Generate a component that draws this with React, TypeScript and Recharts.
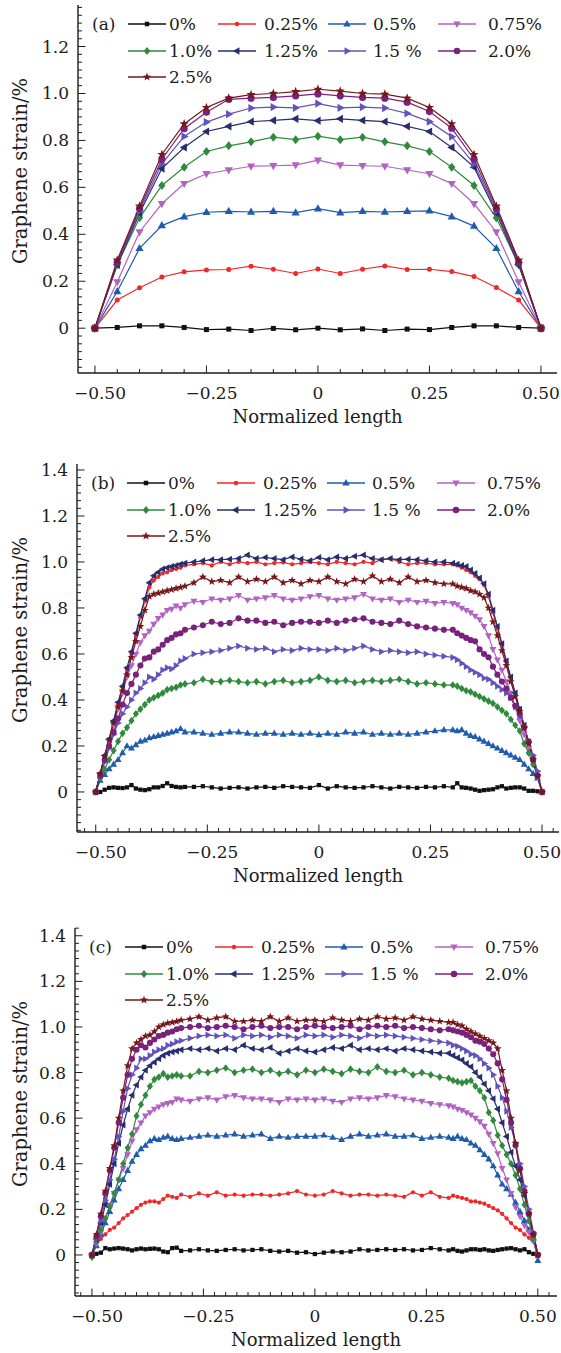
import React from 'react';
import { LineChart, Line, XAxis, YAxis } from 'recharts';

const FONT = '"DejaVu Serif", "Liberation Serif", serif';
const INK = '#1c1c1c';

const seriesLabels = ['0%', '0.25%', '0.5%', '0.75%', '1.0%', '1.25%', '1.5 %', '2.0%', '2.5%'];
const seriesColors = ['#111111', '#f0282a', '#1f5cad', '#b262c2', '#2f8a3d', '#262e6e', '#6252bc', '#7a217c', '#761719'];
const seriesShapes = ['square', 'dot', 'up', 'down', 'diamond', 'left', 'right', 'circle', 'star'];

const xMajor = [-0.5, -0.25, 0, 0.25, 0.5];
const xMajorLabels = ['\u22120.50', '\u22120.25', '0', '0.25', '0.50'];
const yMajor = [0, 0.2, 0.4, 0.6, 0.8, 1.0, 1.2, 1.4];
const yMajorLabels = ['0', '0.2', '0.4', '0.6', '0.8', '1.0', '1.2', '1.4'];

const xMinorA = [-0.5, -0.45, -0.4, -0.35, -0.3, -0.25, -0.2, -0.15, -0.1, -0.05, 0, 0.05, 0.1, 0.15, 0.2, 0.25, 0.3, 0.35, 0.4, 0.45, 0.5];
const xMinorBC = [-0.525, -0.5, -0.475, -0.45, -0.425, -0.4, -0.375, -0.35, -0.325, -0.3, -0.275, -0.25, -0.225, -0.2, -0.175, -0.15, -0.125, -0.1, -0.075, -0.05, -0.025, 0, 0.025, 0.05, 0.075, 0.1, 0.125, 0.15, 0.175, 0.2, 0.225, 0.25, 0.275, 0.3, 0.325, 0.35, 0.375, 0.4, 0.425, 0.45, 0.475, 0.5, 0.525];

// ---------- panel (a) ----------
const xA = [-0.5, -0.45, -0.4, -0.35, -0.3, -0.25, -0.2, -0.15, -0.1, -0.05, 0, 0.05, 0.1, 0.15, 0.2, 0.25, 0.3, 0.35, 0.4, 0.45, 0.5];
const a0 = [0, 0.003, 0.01, 0.01, 0.003, -0.006, -0.004, -0.01, -0.001, -0.007, 0, -0.007, -0.003, -0.01, -0.004, -0.006, 0.003, 0.01, 0.01, 0.003, 0];
const a025 = [0, 0.12, 0.172, 0.218, 0.24, 0.248, 0.25, 0.264, 0.251, 0.233, 0.252, 0.233, 0.251, 0.265, 0.25, 0.251, 0.241, 0.22, 0.173, 0.12, 0];
const a05 = [0, 0.156, 0.34, 0.437, 0.475, 0.494, 0.498, 0.495, 0.498, 0.492, 0.509, 0.492, 0.498, 0.495, 0.498, 0.5, 0.475, 0.435, 0.34, 0.156, 0];
const a075 = [0, 0.197, 0.41, 0.53, 0.616, 0.658, 0.674, 0.69, 0.692, 0.695, 0.716, 0.695, 0.692, 0.69, 0.674, 0.658, 0.616, 0.53, 0.41, 0.197, 0];
const a10 = [0, 0.27, 0.47, 0.608, 0.686, 0.753, 0.777, 0.794, 0.814, 0.803, 0.818, 0.803, 0.814, 0.794, 0.777, 0.753, 0.686, 0.608, 0.47, 0.27, 0];
const a125 = [0, 0.27, 0.49, 0.68, 0.77, 0.838, 0.86, 0.88, 0.885, 0.892, 0.884, 0.892, 0.885, 0.88, 0.86, 0.838, 0.77, 0.686, 0.49, 0.27, 0];
const a15 = [0, 0.28, 0.5, 0.7, 0.817, 0.878, 0.912, 0.938, 0.942, 0.939, 0.957, 0.939, 0.942, 0.938, 0.915, 0.88, 0.816, 0.7, 0.5, 0.28, 0];
const a20 = [0, 0.28, 0.51, 0.72, 0.85, 0.92, 0.975, 0.98, 0.983, 0.99, 0.998, 0.99, 0.983, 0.98, 0.963, 0.923, 0.852, 0.72, 0.51, 0.28, 0];
const a25 = [0, 0.29, 0.52, 0.74, 0.87, 0.94, 0.98, 0.995, 1.0, 1.008, 1.018, 1.01, 1.0, 0.997, 0.98, 0.94, 0.87, 0.74, 0.52, 0.29, 0];

// ---------- panels (b) and (c): shared x positions ----------
const xBC = [
  -0.5, -0.49, -0.48, -0.47, -0.46, -0.45, -0.44, -0.43, -0.42, -0.41, -0.4, -0.39, -0.38, -0.37, -0.36, -0.35, -0.34, -0.33, -0.32, -0.31, -0.3,
  -0.28, -0.26, -0.24, -0.22, -0.2, -0.18, -0.16, -0.14, -0.12, -0.1, -0.08, -0.06, -0.04, -0.02, 0, 0.02, 0.04, 0.06, 0.08, 0.1, 0.12, 0.14, 0.16, 0.18, 0.2, 0.22, 0.24, 0.26, 0.28,
  0.3, 0.31, 0.32, 0.33, 0.34, 0.35, 0.36, 0.37, 0.38, 0.39, 0.4, 0.41, 0.42, 0.43, 0.44, 0.45, 0.46, 0.47, 0.48, 0.49, 0.5,
];

const b0 = [
  0, 0.0, 0.01, 0.018, 0.02, 0.018, 0.017, 0.02, 0.03, 0.015, 0.01, 0.008, 0.012, 0.02, 0.02, 0.026, 0.038, 0.026, 0.022, 0.02, 0.022,
  0.022, 0.025, 0.02, 0.015, 0.018, 0.02, 0.015, 0.02, 0.022, 0.018, 0.025, 0.022, 0.02, 0.018, 0.03, 0.015, 0.025, 0.02, 0.018, 0.02, 0.025, 0.02, 0.015, 0.022, 0.02, 0.018, 0.022, 0.02, 0.025,
  0.02, 0.038, 0.02, 0.018, 0.015, 0.01, 0.005, 0.008, 0.01, 0.012, 0.02, 0.025, 0.015, 0.018, 0.02, 0.02, 0.015, 0.005, 0.005, 0.003, 0,
];
const b025 = [
  0, 0.08, 0.155, 0.23, 0.305, 0.38, 0.455, 0.53, 0.6, 0.68, 0.76, 0.83, 0.89, 0.92, 0.935, 0.95, 0.955, 0.965, 0.97, 0.975, 0.985,
  0.99, 0.995, 0.985, 1.0, 0.99, 1.0, 0.995, 1.0, 0.99, 0.995, 0.998, 0.99, 0.995, 1.0, 0.995, 0.99, 1.0, 0.995, 0.99, 1.0, 0.995, 1.01, 1.015, 1.0, 0.99, 0.995, 0.995, 0.99, 0.99,
  0.99, 0.985, 0.975, 0.965, 0.955, 0.94, 0.925, 0.9, 0.85, 0.78, 0.71, 0.64, 0.565, 0.495, 0.425, 0.355, 0.285, 0.21, 0.14, 0.07, 0,
];
const b05 = [
  0, 0.05, 0.075, 0.1, 0.12, 0.14, 0.17, 0.2, 0.19, 0.205, 0.22, 0.225, 0.235, 0.24, 0.245, 0.25, 0.255, 0.26, 0.265, 0.275, 0.26,
  0.26, 0.255, 0.25, 0.255, 0.26, 0.26, 0.255, 0.25, 0.255, 0.255, 0.25, 0.255, 0.25, 0.255, 0.248, 0.255, 0.25, 0.26, 0.255, 0.26, 0.25, 0.255, 0.25, 0.255, 0.25, 0.255, 0.26, 0.265, 0.27,
  0.27, 0.265, 0.27, 0.255, 0.245, 0.24, 0.23, 0.22, 0.21, 0.2, 0.19, 0.18, 0.17, 0.16, 0.15, 0.14, 0.12, 0.1, 0.08, 0.06, 0,
];
const b075 = [
  0, 0.075, 0.15, 0.22, 0.29, 0.36, 0.43, 0.5, 0.55, 0.6, 0.65, 0.68, 0.7, 0.73, 0.755, 0.77, 0.79, 0.795, 0.81, 0.8, 0.815,
  0.83, 0.825, 0.84, 0.835, 0.84, 0.855, 0.835, 0.84, 0.845, 0.855, 0.84, 0.835, 0.84, 0.85, 0.855, 0.84, 0.835, 0.84, 0.845, 0.86, 0.84, 0.835, 0.84, 0.825, 0.835, 0.825, 0.83, 0.82, 0.825,
  0.82, 0.815, 0.8, 0.79, 0.78, 0.765, 0.75, 0.72, 0.68, 0.62, 0.575, 0.53, 0.48, 0.43, 0.37, 0.31, 0.25, 0.19, 0.13, 0.065, 0,
];
const b10 = [
  0, 0.06, 0.1, 0.14, 0.18, 0.22, 0.255, 0.28, 0.31, 0.34, 0.36, 0.38, 0.4, 0.41, 0.42, 0.43, 0.445, 0.45, 0.455, 0.465, 0.47,
  0.475, 0.49, 0.48, 0.48, 0.485, 0.48, 0.475, 0.48, 0.47, 0.48, 0.485, 0.475, 0.48, 0.485, 0.5, 0.485, 0.48, 0.485, 0.475, 0.48, 0.485, 0.48, 0.485, 0.49, 0.48, 0.47, 0.475, 0.47, 0.465,
  0.465, 0.46, 0.45, 0.44, 0.435, 0.425, 0.415, 0.405, 0.395, 0.385, 0.37, 0.355, 0.34, 0.315, 0.29, 0.265, 0.21, 0.17, 0.12, 0.07, 0,
];
const b125 = [
  0, 0.08, 0.16, 0.23, 0.31, 0.39, 0.46, 0.54, 0.61, 0.69, 0.77, 0.84, 0.91, 0.94, 0.955, 0.97, 0.975, 0.98, 0.985, 0.99, 0.995,
  1.0, 1.005, 1.01, 1.01, 1.012, 1.015, 1.03, 1.015, 1.02, 1.015, 1.01, 1.022, 1.012, 1.005, 1.02, 1.01, 1.022, 1.015, 1.025, 1.03, 1.015, 1.01, 1.015, 1.01, 1.012, 1.01, 1.005, 1.0, 1.0,
  0.995, 0.99, 0.985, 0.98, 0.965, 0.95, 0.93, 0.905, 0.86, 0.79, 0.72, 0.645, 0.57, 0.5, 0.43, 0.36, 0.29, 0.215, 0.145, 0.07, 0,
];
const b15 = [
  0, 0.07, 0.13, 0.19, 0.25, 0.3, 0.34, 0.37, 0.4, 0.43, 0.45, 0.475, 0.5, 0.49, 0.51, 0.53, 0.54, 0.535, 0.55, 0.57, 0.58,
  0.6, 0.605, 0.61, 0.615, 0.625, 0.635, 0.625, 0.62, 0.625, 0.61, 0.62, 0.615, 0.625, 0.62, 0.62, 0.615, 0.625, 0.615, 0.625, 0.635, 0.62, 0.61, 0.615, 0.61, 0.605, 0.61, 0.6, 0.595, 0.59,
  0.585, 0.575, 0.56, 0.545, 0.53, 0.52, 0.51, 0.495, 0.49, 0.475, 0.46, 0.445, 0.43, 0.41, 0.37, 0.33, 0.28, 0.22, 0.16, 0.09, 0,
];
const b20 = [
  0, 0.07, 0.14, 0.2, 0.26, 0.32, 0.38, 0.43, 0.47, 0.51, 0.55, 0.58, 0.585, 0.61, 0.62, 0.64, 0.66, 0.67, 0.685, 0.69, 0.705,
  0.715, 0.725, 0.74, 0.73, 0.735, 0.755, 0.745, 0.745, 0.735, 0.74, 0.725, 0.735, 0.74, 0.74, 0.735, 0.745, 0.735, 0.745, 0.75, 0.755, 0.74, 0.735, 0.73, 0.745, 0.73, 0.72, 0.715, 0.71, 0.705,
  0.705, 0.69, 0.68, 0.67, 0.66, 0.655, 0.62, 0.6, 0.586, 0.545, 0.51, 0.48, 0.45, 0.41, 0.375, 0.34, 0.28, 0.22, 0.14, 0.07, 0,
];
const b25 = [
  0, 0.08, 0.155, 0.225, 0.3, 0.37, 0.44, 0.51, 0.585, 0.655, 0.72, 0.79, 0.85, 0.86, 0.865, 0.87, 0.875, 0.88, 0.885, 0.89, 0.895,
  0.91, 0.935, 0.915, 0.92, 0.91, 0.935, 0.915, 0.925, 0.915, 0.935, 0.91, 0.92, 0.905, 0.92, 0.915, 0.935, 0.915, 0.905, 0.925, 0.915, 0.94, 0.915, 0.925, 0.91, 0.935, 0.915, 0.92, 0.91, 0.905,
  0.905, 0.895, 0.89, 0.885, 0.875, 0.87, 0.86, 0.845, 0.8, 0.74, 0.68, 0.615, 0.55, 0.48, 0.415, 0.35, 0.28, 0.21, 0.14, 0.07, 0,
];

const c0 = [
  0, 0.005, 0.01, 0.03, 0.025, 0.028, 0.03, 0.028, 0.025, 0.02, 0.025, 0.028, 0.025, 0.027, 0.028, 0.025, 0.015, 0.012, 0.03, 0.032, 0.018,
  0.02, 0.025, 0.02, 0.018, 0.022, 0.025, 0.02, 0.022, 0.025, 0.018, 0.015, 0.018, 0.01, 0.012, 0.004, 0.01, 0.015, 0.012, 0.015, 0.025, 0.02, 0.022, 0.025, 0.022, 0.025, 0.02, 0.022, 0.03, 0.025,
  0.02, 0.025, 0.018, 0.015, 0.02, 0.025, 0.025, 0.022, 0.025, 0.02, 0.018, 0.022, 0.025, 0.028, 0.03, 0.025, 0.02, 0.025, 0.012, 0.005, 0,
];
const c025 = [
  0, 0.04, 0.07, 0.09, 0.11, 0.12, 0.14, 0.16, 0.175, 0.19, 0.205, 0.22, 0.23, 0.235, 0.235, 0.23, 0.245, 0.26, 0.255, 0.25, 0.265,
  0.255, 0.27, 0.26, 0.275, 0.26, 0.265, 0.26, 0.265, 0.265, 0.26, 0.265, 0.27, 0.28, 0.265, 0.26, 0.265, 0.28, 0.27, 0.26, 0.265, 0.265, 0.26, 0.265, 0.26, 0.255, 0.275, 0.26, 0.275, 0.255,
  0.25, 0.26, 0.255, 0.25, 0.245, 0.235, 0.235, 0.23, 0.225, 0.215, 0.205, 0.195, 0.18, 0.16, 0.14, 0.12, 0.11, 0.09, 0.075, 0.06, 0,
];
const c05 = [
  0, 0.04, 0.09, 0.14, 0.19, 0.24, 0.29, 0.33, 0.37, 0.41, 0.44, 0.465, 0.48, 0.5, 0.51, 0.505, 0.515, 0.52, 0.51, 0.505, 0.51,
  0.515, 0.52, 0.525, 0.52, 0.525, 0.53, 0.52, 0.525, 0.53, 0.51, 0.52, 0.515, 0.52, 0.52, 0.52, 0.525, 0.515, 0.505, 0.52, 0.53, 0.52, 0.525, 0.53, 0.52, 0.52, 0.525, 0.51, 0.515, 0.52,
  0.515, 0.51, 0.52, 0.51, 0.505, 0.49, 0.48, 0.46, 0.44, 0.42, 0.39, 0.35, 0.31, 0.29, 0.265, 0.23, 0.19, 0.15, 0.11, 0.07, -0.025,
];
const c075 = [
  0, 0.05, 0.1, 0.16, 0.22, 0.27, 0.33, 0.38, 0.44, 0.5, 0.55, 0.58, 0.61, 0.625, 0.64, 0.65, 0.66, 0.665, 0.67, 0.685, 0.68,
  0.675, 0.685, 0.69, 0.68, 0.695, 0.7, 0.69, 0.685, 0.685, 0.68, 0.67, 0.685, 0.68, 0.685, 0.68, 0.685, 0.675, 0.67, 0.685, 0.69, 0.685, 0.69, 0.7, 0.695, 0.685, 0.68, 0.675, 0.665, 0.66,
  0.655, 0.65, 0.64, 0.635, 0.625, 0.615, 0.6, 0.585, 0.565, 0.53, 0.49, 0.445, 0.38, 0.33, 0.27, 0.21, 0.17, 0.13, 0.1, 0.06, 0,
];
const c10 = [
  -0.01, 0.06, 0.11, 0.16, 0.21, 0.27, 0.33, 0.4, 0.47, 0.53, 0.61, 0.66, 0.7, 0.74, 0.77, 0.78, 0.795, 0.78, 0.785, 0.79, 0.785,
  0.785, 0.805, 0.8, 0.81, 0.82, 0.8, 0.81, 0.815, 0.8, 0.81, 0.795, 0.805, 0.79, 0.81, 0.8, 0.815, 0.805, 0.795, 0.815, 0.805, 0.8, 0.825, 0.805, 0.8, 0.81, 0.79, 0.8, 0.79, 0.78,
  0.775, 0.765, 0.76, 0.755, 0.76, 0.765, 0.74, 0.72, 0.69, 0.625, 0.59, 0.525, 0.48, 0.44, 0.4, 0.35, 0.29, 0.22, 0.15, 0.07, 0,
];
const c125 = [
  0, 0.07, 0.14, 0.22, 0.31, 0.4, 0.49, 0.57, 0.64, 0.7, 0.745, 0.78, 0.81, 0.83, 0.845, 0.86, 0.875, 0.885, 0.89, 0.895, 0.9,
  0.905, 0.9, 0.905, 0.895, 0.905, 0.9, 0.92, 0.905, 0.9, 0.91, 0.885, 0.895, 0.905, 0.895, 0.89, 0.9, 0.91, 0.905, 0.92, 0.9, 0.905, 0.9, 0.905, 0.895, 0.905, 0.9, 0.895, 0.89, 0.885,
  0.885, 0.875, 0.865, 0.855, 0.84, 0.825, 0.8, 0.78, 0.75, 0.72, 0.685, 0.64, 0.58, 0.52, 0.45, 0.39, 0.33, 0.26, 0.18, 0.09, 0,
];
const c15 = [
  0, 0.07, 0.15, 0.24, 0.33, 0.42, 0.52, 0.63, 0.73, 0.79, 0.82, 0.86, 0.86, 0.875, 0.89, 0.9, 0.905, 0.92, 0.925, 0.935, 0.94,
  0.95, 0.96, 0.965, 0.96, 0.965, 0.95, 0.965, 0.96, 0.965, 0.955, 0.965, 0.96, 0.95, 0.965, 0.96, 0.965, 0.955, 0.965, 0.96, 0.95, 0.965, 0.96, 0.965, 0.96, 0.955, 0.95, 0.945, 0.94, 0.935,
  0.93, 0.92, 0.915, 0.905, 0.895, 0.88, 0.875, 0.86, 0.84, 0.82, 0.79, 0.74, 0.69, 0.63, 0.56, 0.49, 0.4, 0.3, 0.2, 0.1, 0,
];
const c20 = [
  0, 0.08, 0.17, 0.27, 0.37, 0.47, 0.58, 0.69, 0.79, 0.86, 0.9, 0.92, 0.91, 0.93, 0.945, 0.96, 0.965, 0.975, 0.98, 0.99, 0.995,
  1.0, 1.005, 0.995, 1.0, 1.005, 1.0, 0.99, 1.0, 1.005, 0.995, 1.0, 1.0, 0.99, 1.0, 1.005, 1.0, 0.995, 1.0, 1.005, 0.99, 1.0, 1.005, 1.0, 1.005, 0.995, 1.0, 0.995, 0.99, 0.985,
  0.99, 0.985, 0.98, 0.975, 0.965, 0.955, 0.94, 0.935, 0.925, 0.905, 0.88, 0.84, 0.77, 0.68, 0.58, 0.48, 0.38, 0.28, 0.18, 0.09, 0,
];
const c25 = [
  0, 0.09, 0.18, 0.28, 0.38, 0.48, 0.6, 0.72, 0.83, 0.905, 0.93, 0.945, 0.96, 0.965, 0.98, 1.0, 1.01, 1.017, 1.02, 1.024, 1.03,
  1.035, 1.045, 1.03, 1.04, 1.045, 1.025, 1.025, 1.03, 1.025, 1.045, 1.025, 1.04, 1.025, 1.03, 1.03, 1.025, 1.04, 1.03, 1.025, 1.035, 1.03, 1.045, 1.035, 1.04, 1.03, 1.045, 1.035, 1.03, 1.025,
  1.02, 1.02, 1.01, 1.005, 0.99, 0.98, 0.97, 0.96, 0.95, 0.94, 0.93, 0.905, 0.81, 0.72, 0.6, 0.49, 0.37, 0.27, 0.18, 0.09, 0,
];

const seriesA = [a0, a025, a05, a075, a10, a125, a15, a20, a25];
const seriesB = [b0, b025, b05, b075, b10, b125, b15, b20, b25];
const seriesC = [c0, c025, c05, c075, c10, c125, c15, c20, c25];

// minor y ticks every 0.2/6
const yMinorAll = Array.from({ length: 50 }, (_, i) => Math.round(((i - 6) * 0.2 / 6) * 10000) / 10000);

function Marker({ shape, cx, cy, color, k }: any) {
  if (cx == null || cy == null || isNaN(cx) || isNaN(cy)) return null;
  const p = (pts: number[][]) => pts.map(([a, b]) => `${(cx + a * k).toFixed(2)},${(cy + b * k).toFixed(2)}`).join(' ');
  switch (shape) {
    case 'square':
      return <rect x={cx - 2.5 * k} y={cy - 2.5 * k} width={5 * k} height={5 * k} fill={color} />;
    case 'dot':
      return <circle cx={cx} cy={cy} r={2.5 * k} fill={color} />;
    case 'circle':
      return <circle cx={cx} cy={cy} r={3.6 * k} fill={color} />;
    case 'up':
      return <polygon points={p([[0, -4.5], [4.1, 2.7], [-4.1, 2.7]])} fill={color} />;
    case 'down':
      return <polygon points={p([[0, 4.5], [4.1, -2.7], [-4.1, -2.7]])} fill={color} />;
    case 'left':
      return <polygon points={p([[-4.5, 0], [2.7, -4.1], [2.7, 4.1]])} fill={color} />;
    case 'right':
      return <polygon points={p([[4.5, 0], [-2.7, -4.1], [-2.7, 4.1]])} fill={color} />;
    case 'diamond':
      return <polygon points={p([[0, -4.5], [3.6, 0], [0, 4.5], [-3.6, 0]])} fill={color} />;
    case 'star': {
      const pts: number[][] = [];
      for (let i = 0; i < 10; i++) {
        const r = i % 2 === 0 ? 4.9 : 2.0;
        const a = -Math.PI / 2 + (i * Math.PI) / 5;
        pts.push([r * Math.cos(a), r * Math.sin(a)]);
      }
      return <polygon points={p(pts)} fill={color} />;
    }
    default:
      return null;
  }
}

const majorIndex = (arr: number[], v: number) => arr.findIndex((m) => Math.abs(m - v) < 1e-6);

const textStyle = { fontFamily: FONT, fontSize: 17, fill: INK };
const titleStyle = { fontFamily: FONT, fontSize: 18, fill: INK };
const yTitleStyle = { fontFamily: FONT, fontSize: 19.5, fill: INK };

function makeTick(side: string) {
  return (props: any) => {
    const { x, y, payload, index } = props;
    const v = payload.value;
    if (side === 'bottom' || side === 'top') {
      const mi = majorIndex(xMajor, v);
      const len = mi >= 0 ? 7.5 : 4;
      const dir = side === 'bottom' ? -1 : 1;
      return (
        <g key={`${side}${index}`}>
          <line x1={x} y1={y} x2={x} y2={y + dir * len} stroke={INK} strokeWidth={1} />
          {side === 'bottom' && mi >= 0 && (
            <text x={x + (v < 0 ? 5 : 0)} y={y + 26} textAnchor="middle" style={textStyle}>
              {xMajorLabels[mi]}
            </text>
          )}
        </g>
      );
    }
    const mi = majorIndex(yMajor, v);
    const len = mi >= 0 ? 7.5 : 4;
    const dir = side === 'left' ? 1 : -1;
    return (
      <g key={`${side}${index}`}>
        <line x1={x} y1={y} x2={x + dir * len} y2={y} stroke={INK} strokeWidth={1} />
        {side === 'left' && mi >= 0 && (
          <text x={x - 9} y={y + 6} textAnchor="end" style={textStyle}>
            {yMajorLabels[mi]}
          </text>
        )}
      </g>
    );
  };
}

const legendCols = [50, 140, 250, 360];
const legendTextOff = [41, 46, 45, 50];
const legendRows = [19, 46, 72];

function Panel({ top, height, plot, xDomain, yDomain, xs, series, xMinor, tag, k }: any) {
  const W = 561;
  const data = xs.map((x: number, i: number) => {
    const row: any = { x };
    series.forEach((s: number[], j: number) => {
      row['s' + j] = s[i];
    });
    return row;
  });
  const yAxisW = 40;
  const xAxisH = 30;
  const margin = {
    top: plot.top,
    left: plot.left - yAxisW,
    right: W - plot.right,
    bottom: height - plot.bottom - xAxisH,
  };
  const yTicks = yMinorAll.filter((v) => v >= yDomain[0] && v <= yDomain[1]);
  const xTicks = xMinor.filter((v: number) => v >= xDomain[0] && v <= xDomain[1]);
  const axisLine = { stroke: INK, strokeWidth: 1.4 };
  const midX = (plot.left + plot.right) / 2;
  const midY = (plot.top + plot.bottom) / 2;
  return (
    <div style={{ position: 'absolute', left: 0, top, width: W, height }}>
      <LineChart width={W} height={height} data={data} margin={margin}>
        <XAxis
          dataKey="x"
          type="number"
          domain={xDomain}
          allowDataOverflow
          ticks={xTicks}
          interval={0}
          height={xAxisH}
          tickSize={0}
          tickMargin={0}
          tickLine={false}
          axisLine={axisLine}
          tick={makeTick('bottom')}
        />
        <XAxis
          xAxisId="top"
          orientation="top"
          dataKey="x"
          type="number"
          domain={xDomain}
          allowDataOverflow
          ticks={xTicks}
          interval={0}
          height={0}
          tickSize={0}
          tickMargin={0}
          tickLine={false}
          axisLine={axisLine}
          tick={makeTick('top')}
        />
        <YAxis
          type="number"
          domain={yDomain}
          allowDataOverflow
          ticks={yTicks}
          interval={0}
          width={yAxisW}
          tickSize={0}
          tickMargin={0}
          tickLine={false}
          axisLine={axisLine}
          tick={makeTick('left')}
        />
        <YAxis
          yAxisId="right"
          orientation="right"
          type="number"
          domain={yDomain}
          allowDataOverflow
          ticks={yTicks}
          interval={0}
          width={0}
          tickSize={0}
          tickMargin={0}
          tickLine={false}
          axisLine={axisLine}
          tick={makeTick('right')}
        />
        {series.map((_: number[], j: number) => (
          <Line
            key={j}
            dataKey={'s' + j}
            stroke={seriesColors[j]}
            strokeWidth={1.2}
            isAnimationActive={false}
            activeDot={false}
            dot={(p: any) => (
              <g key={`d${j}-${p.index}`}>
                <Marker shape={seriesShapes[j]} cx={p.cx} cy={p.cy} color={seriesColors[j]} k={k} />
              </g>
            )}
          />
        ))}
      </LineChart>
      <svg
        width={W}
        height={height}
        style={{ position: 'absolute', left: 0, top: 0, pointerEvents: 'none' }}
      >
        <text x={plot.left + 14} y={plot.top + legendRows[0] + 6} style={textStyle}>
          {tag}
        </text>
        {seriesLabels.map((lab, j) => {
          const col = j % 4;
          const row = Math.floor(j / 4);
          const x0 = plot.left + legendCols[col];
          const yy = plot.top + legendRows[row];
          return (
            <g key={lab}>
              <line x1={x0} y1={yy} x2={x0 + 38} y2={yy} stroke={seriesColors[j]} strokeWidth={1.4} />
              <Marker shape={seriesShapes[j]} cx={x0 + 19} cy={yy} color={seriesColors[j]} k={0.9} />
              <text x={x0 + legendTextOff[col]} y={yy + 6} style={textStyle}>
                {lab}
              </text>
            </g>
          );
        })}
        <text x={midX} y={plot.bottom + 50} textAnchor="middle" style={titleStyle}>
          Normalized length
        </text>
        <text
          x={0}
          y={0}
          textAnchor="middle"
          transform={`translate(${27},${midY - 18}) rotate(-90)`}
          style={yTitleStyle}
        >
          Graphene strain/%
        </text>
      </svg>
    </div>
  );
}

export default function App() {
  return (
    <div style={{ position: 'absolute', left: 0, top: 0, width: 561, height: 1353, background: '#fff' }}>
      <Panel
        top={0}
        height={440}
        plot={{ left: 78, right: 557, top: 5, bottom: 373 }}
        xDomain={[-0.538, 0.536]}
        yDomain={[-0.191, 1.377]}
        xs={xA}
        series={seriesA}
        xMinor={xMinorA}
        tag="(a)"
        k={1}
      />
      <Panel
        top={440}
        height={460}
        plot={{ left: 77, right: 559, top: 24, bottom: 392 }}
        xDomain={[-0.542, 0.538]}
        yDomain={[-0.174, 1.426]}
        xs={xBC}
        series={seriesB}
        xMinor={xMinorBC}
        tag="(b)"
        k={0.85}
      />
      <Panel
        top={900}
        height={453}
        plot={{ left: 75, right: 557, top: 28, bottom: 396 }}
        xDomain={[-0.538, 0.543]}
        yDomain={[-0.18, 1.434]}
        xs={xBC}
        series={seriesC}
        xMinor={xMinorBC}
        tag="(c)"
        k={0.85}
      />
    </div>
  );
}
